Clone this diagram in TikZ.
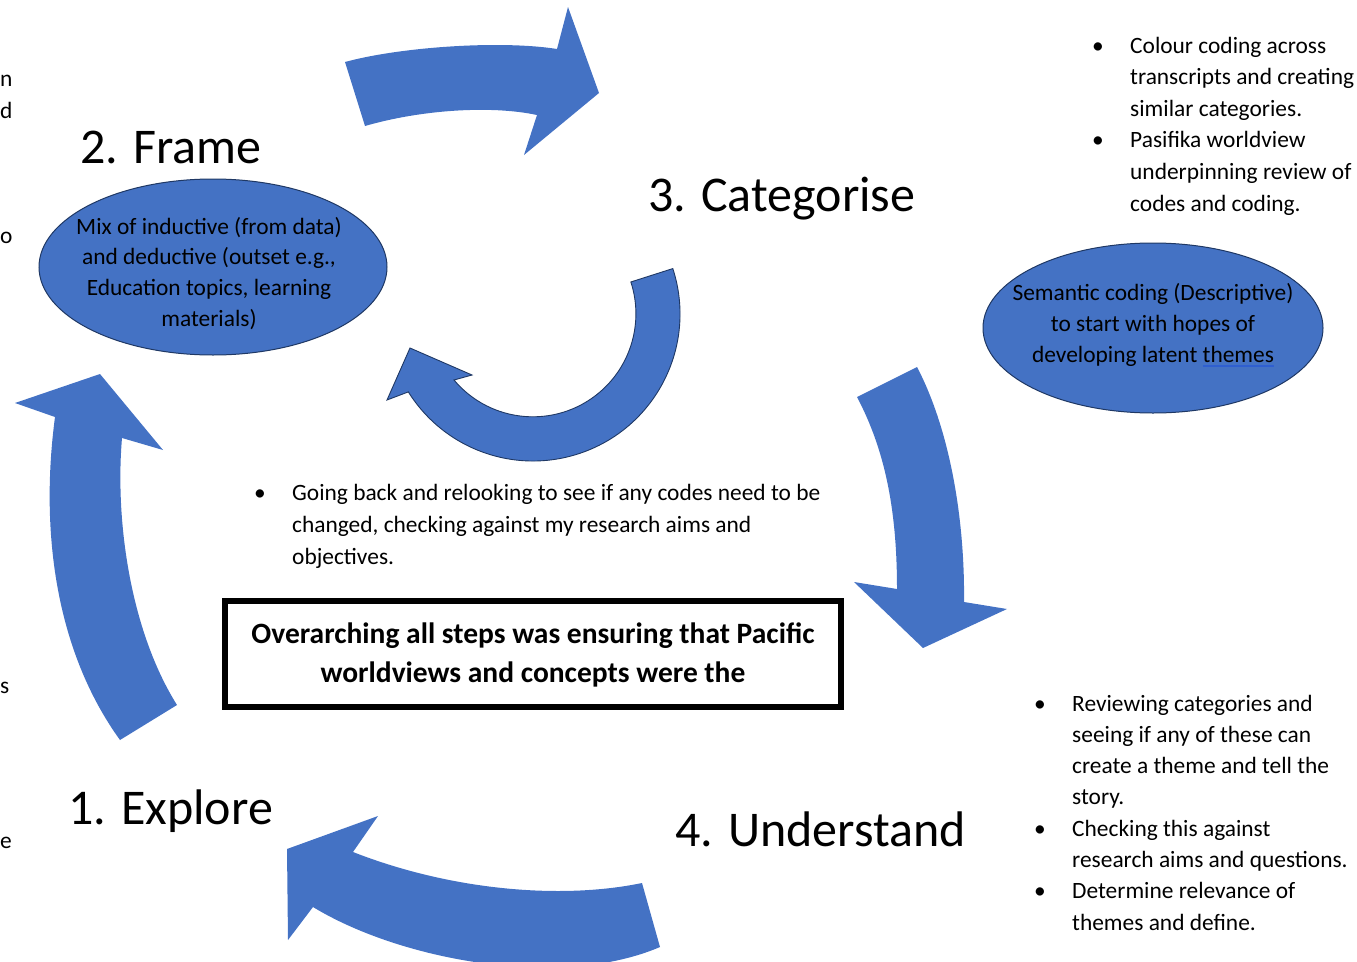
\documentclass[tikz,border=0pt]{standalone}
\usepackage{fontspec}
\setmainfont{Carlito}
\usetikzlibrary{shapes.geometric}
\definecolor{arrowblue}{HTML}{4472C4}
\definecolor{edgedark}{HTML}{1F3864}
\definecolor{spellblue}{HTML}{2F5FD0}
\begin{document}
\begin{tikzpicture}[x=1pt,y=-1pt,
  bigarrow/.style={fill=arrowblue, draw=none},
  ringarrow/.style={fill=arrowblue, draw=edgedark, line width=0.9pt, line join=miter},
  oval/.style={ellipse, fill=arrowblue, draw=edgedark, line width=1pt, inner sep=0pt},
  title/.style={font=\fontsize{50}{60}\selectfont, inner sep=0pt, anchor=base west},
  small/.style={font=\fontsize{23.4}{28}\selectfont, inner sep=0pt, anchor=base west},
  smallc/.style={font=\fontsize{23.4}{28}\selectfont, inner sep=0pt, anchor=base},
  bul/.style={font=\fontsize{23.4}{28}\selectfont, inner sep=0pt, anchor=base},
  boxtext/.style={font=\fontsize{29.5}{34}\selectfont\bfseries, inner sep=0pt, anchor=base},
  frame box/.style={draw=black, line width=6pt, inner sep=0pt}]
\useasboundingbox (0,0) rectangle (1357,961);

% ---- big curved arrows ----
% 2 -> 3 (top)
\fill[bigarrow] (345,62) .. controls (400,47) and (500,40) .. (557,49) -- (568,7) -- (599,93) -- (524,155) -- (537,115) .. controls (490,105) and (420,110) .. (365,126) -- cycle;
% 3 -> 4 (right)
\fill[bigarrow] (857,397) -- (917,367) .. controls (950,430) and (965,520) .. (964,602) -- (1007,609) -- (923,648) -- (854,582) -- (897,589) .. controls (897,510) and (885,450) .. (857,397) -- cycle;
% 4 -> 1 (bottom)
\fill[bigarrow] (642,883) .. controls (560,900) and (450,890) .. (353,852) -- (378,816) -- (287,849) -- (288,940) -- (313,907) .. controls (400,960) and (560,990) .. (660,947) -- cycle;
% 1 -> 2 (left)
\fill[bigarrow] (120,740) .. controls (55,650) and (40,530) .. (55,417) -- (15,403) -- (100,374) -- (163,450) -- (122,438) .. controls (115,520) and (130,630) .. (177,705) -- cycle;
% circular arrow (middle)
\filldraw[ringarrow] (533,314) ++(-18:147) arc[start angle=-18, end angle=148, radius=147] -- (387,400) -- (410,348) -- (472,375) -- (454,380) arc[start angle=140, end angle=-18, radius=103] -- cycle;

% ---- ellipses ----
\node[oval, minimum width=348pt, minimum height=176pt] (frameoval) at (213,267) {};
\foreach \t [count=\i] in {{Mix of inductive (from data)},{and deductive (outset e.g.,},{Education topics, learning},{materials)}}
  \node[smallc] (fo\i) at (209,{234+30.7*(\i-1)}) {\t};

\node[oval, minimum width=340pt, minimum height=170pt] (catoval) at (1153,328) {};
\node[smallc] (co1) at (1153,300) {Semantic coding (Descriptive)};
\node[smallc] (co2) at (1153,331) {to start with hopes of};
\node[smallc] (co3) at (1153,362) {developing latent \setbox0\hbox{themes}\rlap{\color{spellblue}\rule[-4.5pt]{\wd0}{1.4pt}}themes};

% ---- titles ----
\node[title] (t2) at (80,163) {2. Frame};
\node[title] (t3) at (648,211) {3. Categorise};
\node[title] (t1) at (68,824) {1. Explore};
\node[title] (t4) at (675,846) {4. Understand};

% ---- top-right list ----
\foreach \t [count=\i] in {{Colour coding across},{transcripts and creating},{similar categories.},{Pasifika worldview},{underpinning review of},{codes and coding.}}
  \node[small] (tr\i) at (1130,{53+31.6*(\i-1)}) {\t};
\node[bul] (trb1) at (1098,53) {•};
\node[bul] (trb2) at (1098,147.8) {•};

% ---- middle list ----
\foreach \t [count=\i] in {{Going back and relooking to see if any codes need to be},{changed, checking against my research aims and},{objectives.}}
  \node[small] (md\i) at (292,{500+32*(\i-1)}) {\t};
\node[bul] (mdb1) at (260,500) {•};

% ---- bottom-right list ----
\foreach \t [count=\i] in {{Reviewing categories and},{seeing if any of these can},{create a theme and tell the},{story.},{Checking this against},{research aims and questions.},{Determine relevance of},{themes and define.}}
  \node[small] (br\i) at (1072,{711+31.3*(\i-1)}) {\t};
\node[bul] (brb1) at (1040,711) {•};
\node[bul] (brb2) at (1040,836.2) {•};
\node[bul] (brb3) at (1040,898.8) {•};

% ---- overarching box ----
\node[frame box, minimum width=616pt, minimum height=106pt] (overbox) at (533,654) {};
\node[boxtext] (ob1) at (533,643) {Overarching all steps was ensuring that Pacific};
\node[boxtext] (ob2) at (533,682) {worldviews and concepts were the};

% ---- text fragments at left edge ----
\node[small, anchor=base west] (lf1) at (0,86) {n};
\node[small, anchor=base west] (lf2) at (0,118) {d};
\node[small, anchor=base west] (lf3) at (0,243) {o};
\node[small, anchor=base west] (lf4) at (0,693) {s};
\node[small, anchor=base west] (lf5) at (0,848) {e};
\end{tikzpicture}
\end{document}
